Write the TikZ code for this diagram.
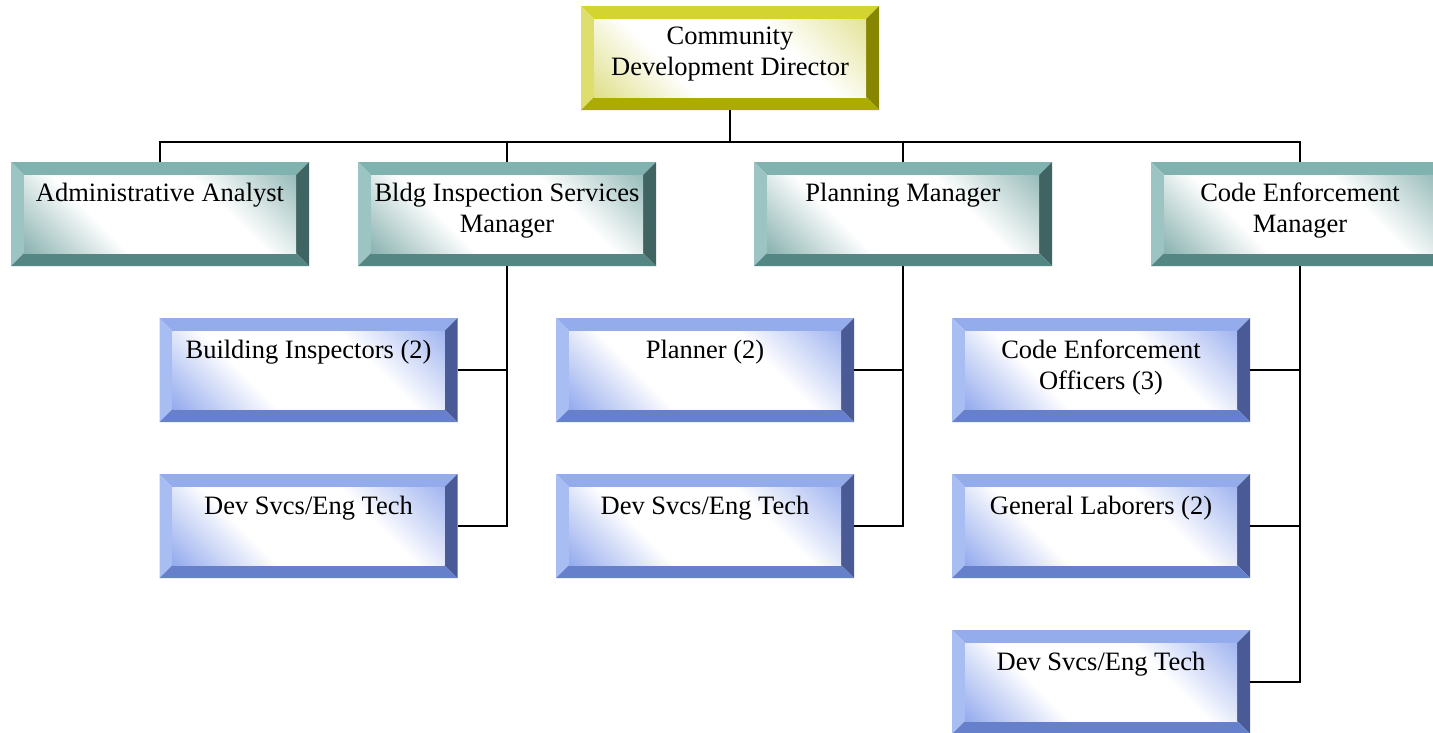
\documentclass[tikz,border=0pt]{standalone}
\usepackage{fontspec}
\setmainfont{Liberation Serif}
\definecolor{yTop}{RGB}{212,212,48}
\definecolor{yLeft}{RGB}{222,222,110}
\definecolor{yRight}{RGB}{134,134,0}
\definecolor{yBot}{RGB}{172,172,0}
\definecolor{yTint}{RGB}{224,224,140}
\definecolor{tTop}{RGB}{128,178,175}
\definecolor{tLeft}{RGB}{156,196,194}
\definecolor{tRight}{RGB}{63,100,98}
\definecolor{tBot}{RGB}{84,135,132}
\definecolor{tTint}{RGB}{140,180,178}
\definecolor{bTop}{RGB}{148,172,236}
\definecolor{bLeft}{RGB}{168,190,242}
\definecolor{bRight}{RGB}{74,90,150}
\definecolor{bBot}{RGB}{102,128,204}
\definecolor{bTint}{RGB}{150,172,238}
\pgfdeclarehorizontalshading{ysh}{100bp}{color(0bp)=(yTint); color(15bp)=(yTint); color(36bp)=(white); color(64bp)=(white); color(88bp)=(yTint); color(100bp)=(yTint)}
\pgfdeclarehorizontalshading{tsh}{100bp}{color(0bp)=(tTint); color(15bp)=(tTint); color(36bp)=(white); color(64bp)=(white); color(88bp)=(tTint); color(100bp)=(tTint)}
\pgfdeclarehorizontalshading{bsh}{100bp}{color(0bp)=(bTint); color(15bp)=(bTint); color(36bp)=(white); color(64bp)=(white); color(88bp)=(bTint); color(100bp)=(bTint)}
\tikzset{
  bx/.style n args={5}{rectangle, minimum width=298pt, minimum height=104pt,
    inner sep=0pt, outer sep=0pt,
    path picture={
      \path (path picture bounding box.north west) coordinate (pa)
            (path picture bounding box.north east) coordinate (pb)
            (path picture bounding box.south east) coordinate (pc)
            (path picture bounding box.south west) coordinate (pd);
      \path ([shift={(13pt,-13pt)}]pa) coordinate (ia)
            ([shift={(-13pt,-13pt)}]pb) coordinate (ib)
            ([shift={(-13pt,13pt)}]pc) coordinate (ic)
            ([shift={(13pt,13pt)}]pd) coordinate (id);
      \fill[#1] (pa) -- (pb) -- (ib) -- (ia) -- cycle;
      \fill[#2] (pa) -- (ia) -- (id) -- (pd) -- cycle;
      \fill[#3] (pb) -- (pc) -- (ic) -- (ib) -- cycle;
      \fill[#4] (pd) -- (pc) -- (ic) -- (id) -- cycle;
      \shade[shading=#5, shading angle=45] (ia) rectangle (ic);
    }},
  yelbox/.style={bx={yTop}{yLeft}{yRight}{yBot}{ysh}},
  tealbox/.style={bx={tTop}{tLeft}{tRight}{tBot}{tsh}},
  bluebox/.style={bx={bTop}{bLeft}{bRight}{bBot}{bsh}},
  txt/.style={anchor=north, inner sep=0pt, align=center,
    font=\fontsize{26.5}{31}\selectfont},
  conn/.style={draw=black, line width=1.8pt}
}
\begin{document}
\begin{tikzpicture}[x=1pt,y=-1pt]
\useasboundingbox (0,0) rectangle (1433,732);
\clip (0,0) rectangle (1433,732);
\fill[white] (0,0) rectangle (1433,732);

% boxes
\node[yelbox] (dir) at (730,58) {};
\node[tealbox] (admin) at (160,214) {};
\node[tealbox] (bldg) at (507,214) {};
\node[tealbox] (plan) at (903,214) {};
\node[tealbox] (code) at (1300,214) {};
\node[bluebox] (bins) at (308.5,370) {};
\node[bluebox] (bdev) at (308.5,526) {};
\node[bluebox] (pplan) at (705,370) {};
\node[bluebox] (pdev) at (705,526) {};
\node[bluebox] (ceo) at (1101,370) {};
\node[bluebox] (gl) at (1101,526) {};
\node[bluebox] (cdev) at (1101,682) {};

% texts
\node[txt] (tdir) at ([yshift=-21pt]dir.north) {Community\\Development Director};
\node[txt] (tadmin) at ([yshift=-21pt]admin.north) {Administrative Analyst};
\node[txt] (tbldg) at ([yshift=-21pt]bldg.north) {Bldg Inspection Services\\Manager};
\node[txt] (tplan) at ([yshift=-21pt]plan.north) {Planning Manager};
\node[txt] (tcode) at ([yshift=-21pt]code.north) {Code Enforcement\\Manager};
\node[txt] (tbins) at ([yshift=-22pt]bins.north) {Building Inspectors (2)};
\node[txt] (tbdev) at ([yshift=-22pt]bdev.north) {Dev Svcs/Eng Tech};
\node[txt] (tpplan) at ([yshift=-22pt]pplan.north) {Planner (2)};
\node[txt] (tpdev) at ([yshift=-22pt]pdev.north) {Dev Svcs/Eng Tech};
\node[txt] (tceo) at ([yshift=-22pt]ceo.north) {Code Enforcement\\Officers (3)};
\node[txt] (tgl) at ([yshift=-22pt]gl.north) {General Laborers (2)};
\node[txt] (tcdev) at ([yshift=-22pt]cdev.north) {Dev Svcs/Eng Tech};

% connectors
\coordinate (bus) at (730,142);
\draw[conn] (dir.south) -- (bus);
\draw[conn] (admin.north) |- (bus) -| (code.north);
\draw[conn] (bldg.north) -- (bldg.north |- bus);
\draw[conn] (plan.north) -- (plan.north |- bus);

\draw[conn] (bldg.south) |- (bdev.east);
\draw[conn] (bins.east) -- (bins.east -| bldg.south);
\draw[conn] (plan.south) |- (pdev.east);
\draw[conn] (pplan.east) -- (pplan.east -| plan.south);
\draw[conn] (code.south) |- (cdev.east);
\draw[conn] (ceo.east) -- (ceo.east -| code.south);
\draw[conn] (gl.east) -- (gl.east -| code.south);
\end{tikzpicture}
\end{document}
